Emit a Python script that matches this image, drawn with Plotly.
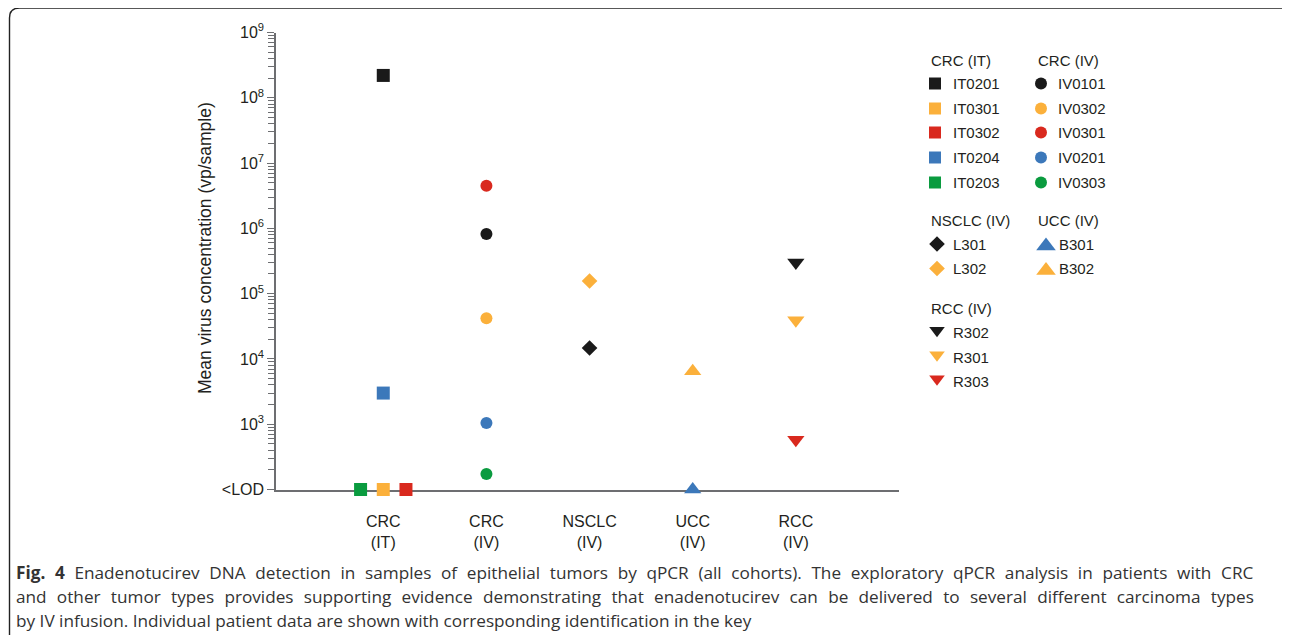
import plotly.graph_objects as go

# page body has an 8 px margin; the figure is sized to fit inside the window
PAGE_OFF = 8
W, H = 1290 - 2 * PAGE_OFF, 643 - 2 * PAGE_OFF

# ---------------- data ----------------
categories = ["CRC<br>(IT)", "CRC<br>(IV)", "NSCLC<br>(IV)", "UCC<br>(IV)", "RCC<br>(IV)"]
LOD = 1e2  # plotted at the "<LOD" level

crc_it_ids = ["IT0201", "IT0301", "IT0302", "IT0204", "IT0203"]
crc_it_vals = [2.2e8, LOD, LOD, 3.0e3, LOD]

crc_iv_ids = ["IV0101", "IV0302", "IV0301", "IV0201", "IV0303"]
crc_iv_vals = [8.2e5, 4.2e4, 4.5e6, 1.04e3, 1.73e2]

nsclc_ids = ["L301", "L302"]
nsclc_vals = [1.47e4, 1.56e5]

ucc_ids = ["B301", "B302"]
ucc_vals = [LOD, 6.5e3]

rcc_ids = ["R302", "R301", "R303"]
rcc_vals = [3.0e5, 3.9e4, 5.8e2]

group_titles = ["CRC (IT)", "CRC (IV)", "NSCLC (IV)", "UCC (IV)", "RCC (IV)"]

y_tick_vals = [1e2, 1e3, 1e4, 1e5, 1e6, 1e7, 1e8, 1e9]
y_tick_text = ["&lt;LOD", "10<sup>3</sup>", "10<sup>4</sup>", "10<sup>5</sup>",
               "10<sup>6</sup>", "10<sup>7</sup>", "10<sup>8</sup>", "10<sup>9</sup>"]
y_minor_vals = [k * 10 ** n for n in range(2, 9) for k in range(2, 10)]

caption_lines = [
    "<b>Fig. 4</b> Enadenotucirev DNA detection in samples of epithelial tumors by qPCR (all cohorts). The exploratory qPCR analysis in patients with CRC",
    "and other tumor types provides supporting evidence demonstrating that enadenotucirev can be delivered to several different carcinoma types",
    "by IV infusion. Individual patient data are shown with corresponding identification in the key",
]
caption_word_spacing = [5.2, 5.8, 0]  # justified lines

# ---------------- styles ----------------
BLACK = "#1a1a1a"
ORANGE = "#fbb03b"
RED = "#d9291e"
BLUE = "#3c78ba"
GREEN = "#0a9b3f"
TEXT = "#231f20"
AXIS = "#6d6e71"
FONT = "Liberation Sans, Arial, sans-serif"

groups = [
    dict(ids=crc_it_ids, vals=crc_it_vals, cat=0, symbol="square", size=13, lsize=12,
         colors=[BLACK, ORANGE, RED, BLUE, GREEN]),
    dict(ids=crc_iv_ids, vals=crc_iv_vals, cat=1, symbol="circle", size=12, lsize=12,
         colors=[BLACK, ORANGE, RED, BLUE, GREEN]),
    dict(ids=nsclc_ids, vals=nsclc_vals, cat=2, symbol="diamond", size=12, lsize=12,
         colors=[BLACK, ORANGE]),
    dict(ids=ucc_ids, vals=ucc_vals, cat=3, symbol="triangle-up", size=15, lsize=17,
         colors=[BLUE, ORANGE]),
    dict(ids=rcc_ids, vals=rcc_vals, cat=4, symbol="triangle-down", size=15, lsize=13.5,
         colors=[BLACK, ORANGE, RED]),
]

# horizontal spread of coincident <LOD points (position only)
lod_jitter = {"IT0203": -0.22, "IT0302": 0.22}

# legend layout in window pixel coordinates
legend_layout = [
    dict(tx=929, ty=60, mx=935, lx=950.5, rows=[83.5, 108.5, 132.5, 157.5, 182.5], dy=0),
    dict(tx=1035.5, ty=60, mx=1041, lx=1056, rows=[83.5, 108.5, 132.5, 157.5, 182.5], dy=0),
    dict(tx=929, ty=220, mx=937, lx=950.5, rows=[244, 268.5], dy=0),
    dict(tx=1035.5, ty=220, mx=1046, lx=1056.5, rows=[244, 268.5], dy=2),
    dict(tx=929, ty=308.5, mx=937, lx=950.5, rows=[332.5, 357, 381], dy=-2),
]

# plot area in window pixels
PX_L, PX_R, PX_T, PX_B = 276, 899, 32.5, 489.5

fig = go.Figure()

# ---------------- data traces ----------------
for g in groups:
    for pid, val, col in zip(g["ids"], g["vals"], g["colors"]):
        fig.add_trace(go.Scatter(
            x=[g["cat"] + lod_jitter.get(pid, 0)], y=[val],
            mode="markers", name=pid, showlegend=False, cliponaxis=False,
            marker=dict(symbol=g["symbol"], size=g["size"], color=col, line=dict(width=0)),
            xaxis="x", yaxis="y",
        ))

# ---------------- legend (pixel overlay axes) ----------------
annotations = []
for g, title, lay in zip(groups, group_titles, legend_layout):
    annotations.append(dict(x=lay["tx"], y=lay["ty"], xref="x2", yref="y2", text=title,
                            showarrow=False, xanchor="left", yanchor="middle",
                            font=dict(family=FONT, size=15, color=TEXT)))
    for pid, col, ry in zip(g["ids"], g["colors"], lay["rows"]):
        fig.add_trace(go.Scatter(
            x=[lay["mx"]], y=[ry + lay["dy"]], mode="markers", showlegend=False,
            marker=dict(symbol=g["symbol"], size=g["lsize"], color=col, line=dict(width=0)),
            xaxis="x2", yaxis="y2", hoverinfo="skip",
        ))
        annotations.append(dict(x=lay["lx"], y=ry, xref="x2", yref="y2", text=pid,
                                showarrow=False, xanchor="left", yanchor="middle",
                                font=dict(family=FONT, size=15, color=TEXT)))

# y axis title
annotations.append(dict(x=205, y=248, xref="x2", yref="y2",
                        text="Mean virus concentration (vp/sample)", textangle=-90,
                        showarrow=False, xanchor="center", yanchor="middle",
                        font=dict(family=FONT, size=17.5, color=TEXT)))

# caption
for i, (line, ws) in enumerate(zip(caption_lines, caption_word_spacing)):
    txt = f'<span style="word-spacing:{ws}px">{line}</span>' if ws else line
    annotations.append(dict(x=14, y=572 + 24 * i, xref="x2", yref="y2", text=txt,
                            showarrow=False, xanchor="left", yanchor="middle",
                            font=dict(family="Open Sans, sans-serif", size=17.2, color="#333333")))

# rounded frame
frame = ("M 9.5,18 Q 9.5,8 19.5,8 L 1288,8 Q 1298,8 1298,18 L 1298,638 "
         "Q 1298,648 1288,648 L 19.5,648 Q 9.5,648 9.5,638 Z")

fig.update_layout(
    width=W, height=H,
    margin=dict(l=0, r=0, t=0, b=0, pad=0, autoexpand=False),
    paper_bgcolor="white", plot_bgcolor="rgba(0,0,0,0)",
    showlegend=False,
    font=dict(family=FONT, color=TEXT),
    annotations=annotations,
    shapes=[dict(type="path", path=frame, xref="x2", yref="y2",
                 line=dict(color="#222222", width=1.4), layer="below")],
    xaxis=dict(domain=[(PX_L - PAGE_OFF) / W, (PX_R - PAGE_OFF) / W], range=[-1.04, 5.0],
               tickmode="array", tickvals=list(range(len(categories))), ticktext=categories,
               ticks="outside", ticklen=17, tickcolor="rgba(0,0,0,0)",
               tickfont=dict(family=FONT, size=16, color=TEXT),
               showline=True, linecolor=AXIS, linewidth=1.5, automargin=False,
               showgrid=False, zeroline=False, layer="below traces", anchor="y"),
    yaxis=dict(domain=[1 - (PX_B - PAGE_OFF) / H, 1 - (PX_T - PAGE_OFF) / H],
               type="log", range=[2, 9],
               tickmode="array", tickvals=y_tick_vals, ticktext=y_tick_text,
               ticks="outside", ticklen=7, tickwidth=1.2, tickcolor=AXIS,
               minor=dict(tickmode="array", tickvals=y_minor_vals, ticks="outside",
                          ticklen=6, tickwidth=1, tickcolor=AXIS, showgrid=False),
               tickfont=dict(family=FONT, size=16, color=TEXT),
               showline=True, linecolor=AXIS, linewidth=1.5, automargin=False,
               showgrid=False, zeroline=False, layer="below traces", anchor="x"),
    xaxis2=dict(domain=[0, 1], range=[PAGE_OFF, PAGE_OFF + W], visible=False,
                fixedrange=True, automargin=False, anchor="y2"),
    yaxis2=dict(domain=[0, 1], range=[PAGE_OFF + H, PAGE_OFF], visible=False,
                fixedrange=True, automargin=False, anchor="x2"),
)

fig.write_html("out.html")
